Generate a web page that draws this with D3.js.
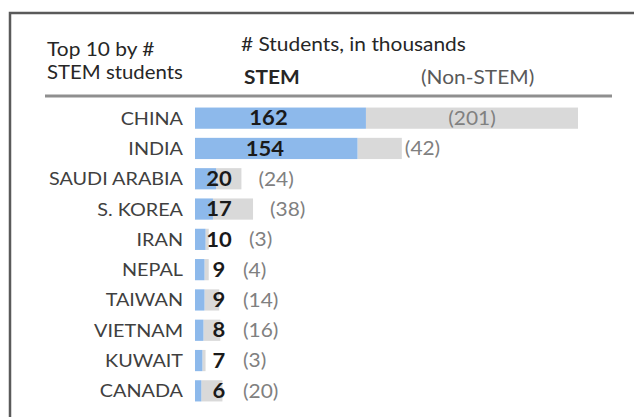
<!DOCTYPE html>
<html>
<head>
<meta charset="utf-8">
<script src="https://cdn.jsdelivr.net/npm/d3@7"></script>
<style>
  html, body { margin: 0; padding: 0; background: #fff; }
  svg { display: block; }
  text { font-family: Lato, "Open Sans", sans-serif; }
</style>
</head>
<body>
<svg id="chart" width="634" height="417"></svg>
<script>
// Top 10 countries by number of STEM students (thousands)
const countries = ["CHINA", "INDIA", "SAUDI ARABIA", "S. KOREA", "IRAN",
                   "NEPAL", "TAIWAN", "VIETNAM", "KUWAIT", "CANADA"];
const stem    = [162, 154, 20, 17, 10, 9, 9, 8, 7, 6];
const nonStem = [201, 42, 24, 38, 3, 4, 14, 16, 3, 20];

const rows = countries.map((c, i) => ({ country: c, stem: stem[i], nonStem: nonStem[i] }));

const svg = d3.select("#chart");
const W = 634, H = 417;
const SX = 1.1; // slightly wide lettering

// Text placed at (x, y) with a gentle horizontal stretch
function label(sel, x, y) {
  return sel.attr("transform", (d, i) => {
    const px = typeof x === "function" ? x(d, i) : x;
    const py = typeof y === "function" ? y(d, i) : y;
    return `translate(${px},${py}) scale(${SX},1)`;
  });
}

// Frame around the chart
svg.append("rect")
  .attr("x", 10).attr("y", 13)
  .attr("width", W + 20).attr("height", H + 20)
  .attr("fill", "none").attr("stroke", "#5a5a5a").attr("stroke-width", 2.5);

// Header
const hdr = svg.append("g").attr("fill", "#262626").style("font-size", "19px");
label(hdr.append("text"), 47, 56).text("Top 10 by #");
label(hdr.append("text"), 47, 79).style("font-size", "18.5px").text("STEM students");
label(hdr.append("text"), 241, 51).text("# Students, in thousands");
label(hdr.append("text"), 244, 84).attr("font-weight", "bold").text("STEM");
label(hdr.append("text"), 421, 84).attr("fill", "#595959").text("(Non-STEM)");

svg.append("line")
  .attr("x1", 45).attr("x2", 612).attr("y1", 96).attr("y2", 96)
  .attr("stroke", "#8f8f8f").attr("stroke-width", 3);

// Scales
const x0 = 195;
const x = d3.scaleLinear().domain([0, 363]).range([x0, x0 + 383]);
const y = d3.scaleBand().domain(countries).range([103, 406]).paddingInner(0.3).paddingOuter(0.15);
const yMid = d => y(d.country) + y.bandwidth() / 2;

const g = svg.append("g");

// Country labels
label(g.selectAll("text.country").data(rows).join("text"), 183, yMid)
  .attr("class", "country")
  .attr("dy", "0.36em")
  .attr("text-anchor", "end")
  .attr("fill", "#404040")
  .style("font-size", "18px")
  .text(d => d.country);

// Non-STEM segment (stacked after STEM)
g.selectAll("rect.non").data(rows).join("rect")
  .attr("class", "non")
  .attr("x", d => x(d.stem))
  .attr("y", d => y(d.country))
  .attr("width", d => x(d.stem + d.nonStem) - x(d.stem))
  .attr("height", y.bandwidth())
  .attr("fill", "#d9d9d9");

// STEM segment
g.selectAll("rect.stem").data(rows).join("rect")
  .attr("class", "stem")
  .attr("x", x(0))
  .attr("y", d => y(d.country))
  .attr("width", d => x(d.stem) - x(0))
  .attr("height", y.bandwidth())
  .attr("fill", "#8db9eb");

// Value labels
const big = d => d.stem > 50;
const stemLabelX = d => big(d) ? x(0) + (x(d.stem) - x(0)) * 0.43 : 219;

label(g.selectAll("text.stemval").data(rows).join("text"), stemLabelX, yMid)
  .attr("class", "stemval")
  .attr("dy", "0.36em")
  .attr("text-anchor", "middle")
  .attr("font-weight", "bold")
  .attr("fill", "#1a1a1a")
  .style("font-size", "20px")
  .text(d => d.stem);

const nonLabelX = d => {
  if (d.nonStem > 100) return (x(d.stem) + x(d.stem + d.nonStem)) / 2;
  if (big(d)) return x(d.stem + d.nonStem) + 3;
  const stemEnd = stemLabelX(d) + String(d.stem).length * 6;
  return Math.max(x(d.stem + d.nonStem) + 17, stemEnd + 18);
};

label(g.selectAll("text.nonval").data(rows).join("text"), nonLabelX, yMid)
  .attr("class", "nonval")
  .attr("dy", "0.36em")
  .attr("text-anchor", d => d.nonStem > 100 ? "middle" : "start")
  .attr("fill", "#808080")
  .style("font-size", "19px")
  .text(d => `(${d.nonStem})`);
</script>
</body>
</html>
